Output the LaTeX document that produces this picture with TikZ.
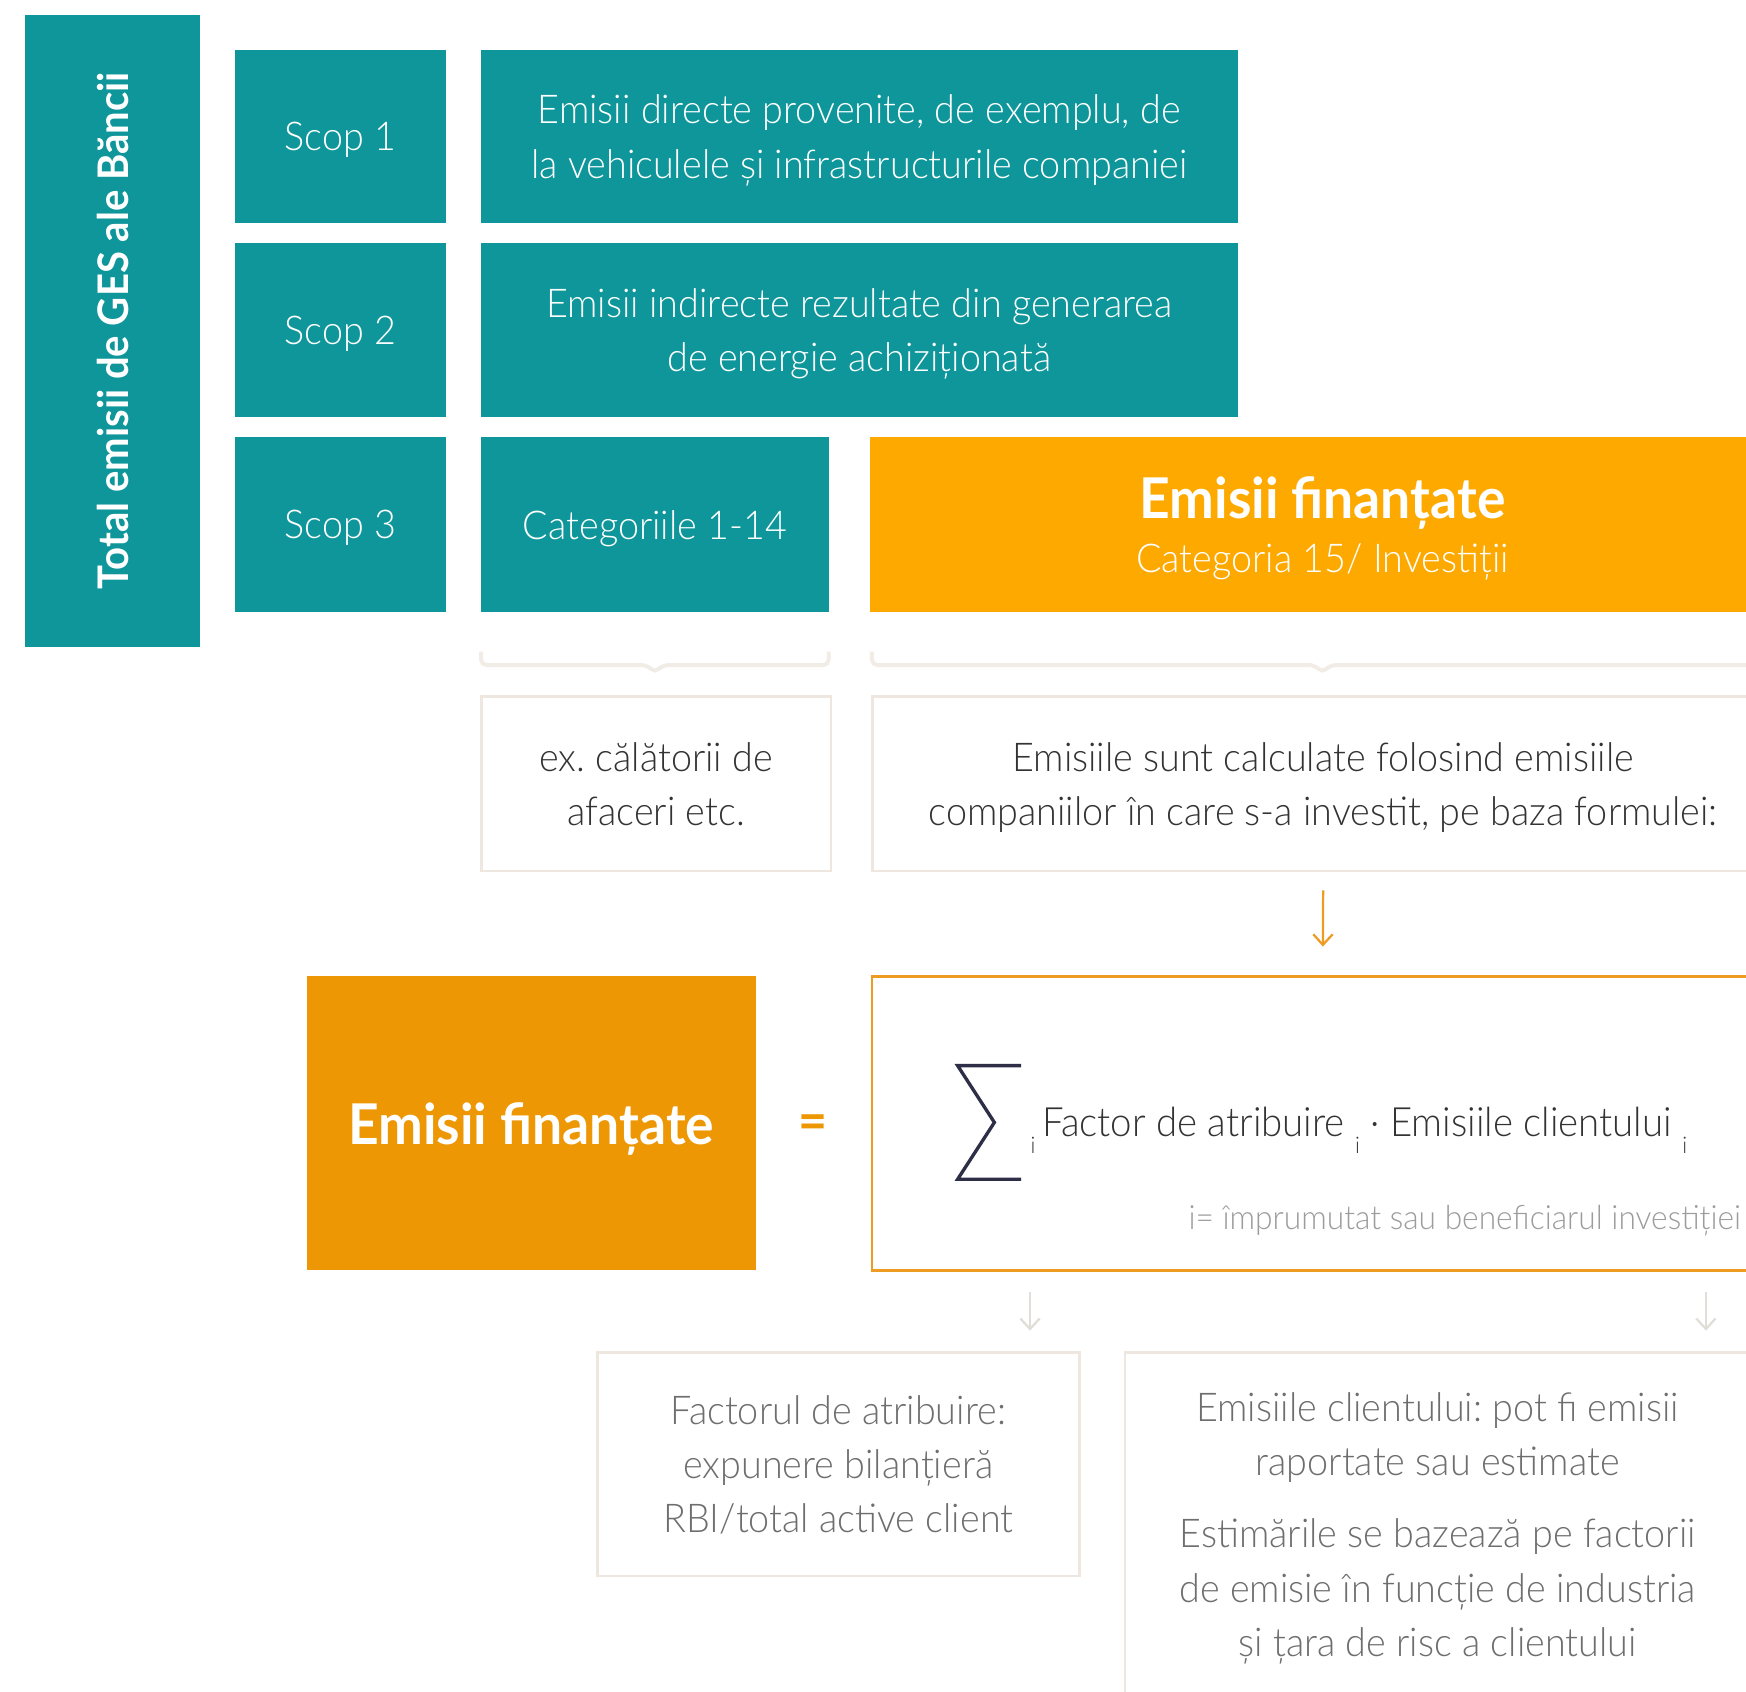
\documentclass[tikz,border=0pt]{standalone}
\usepackage{fontspec}
\setmainfont{Lato}[UprightFont=* Light,BoldFont=* Bold,FakeStretch=0.95]
\usetikzlibrary{arrows.meta,calc}
\definecolor{ingteal}{HTML}{0E969B}
\definecolor{ingorange}{HTML}{FDA900}
\definecolor{deeporange}{HTML}{ED9705}
\definecolor{lineorange}{HTML}{EE9B22}
\definecolor{beige}{HTML}{EDE7E0}
\definecolor{darktext}{HTML}{333333}
\definecolor{greytext}{HTML}{6E6E6E}
\definecolor{lighttext}{HTML}{9C9C9C}
\newcommand\px{0.011135cm}
\newcommand\sub[1]{\raisebox{-5pt}{\fontsize{6.5}{7}\selectfont #1}}
\frenchspacing

\begin{document}
\begin{tikzpicture}[x=0.011135cm,y=-0.011135cm,
  basebox/.style={rectangle,inner sep=0pt,anchor=north west,align=center,text depth=0pt,
    font=\fontsize{11.3}{15.4}\selectfont},
  tealbox/.style={basebox,fill=ingteal,text=white},
  paperbox/.style={basebox,draw=beige,line width=2.5*\px},
  bracket/.style={draw=beige!80,line width=3.5*\px,rounded corners=5*\px},
  flowarrow/.style={-{Straight Barb[length=3pt,width=5.5pt]},line width=2*\px}]
\clip (0,0) rectangle (1568,1519);
\fill[white] (0,0) rectangle (1568,1519);
% Scopuri
\node (total) [tealbox,minimum width=157*\px,minimum height=567*\px] at (22,13) {};
\node (totaltext) [rotate=90,text=white,font=\bfseries\fontsize{12}{14}\selectfont] at (total.center) {Total emisii de GES ale Băncii};
\node (scop1) [tealbox,minimum width=190*\px,minimum height=156*\px] at (210,44) {Scop 1};
\node (scop2) [tealbox,minimum width=190*\px,minimum height=156*\px] at (210,218) {Scop 2};
\node (scop3) [tealbox,minimum width=190*\px,minimum height=157*\px] at (210,392) {Scop 3};
\node (direct) [tealbox,minimum width=680*\px,minimum height=156*\px] at (431,44) {Emisii directe provenite, de exemplu, de\\la vehiculele și infrastructurile companiei};
\node (indirect) [tealbox,minimum width=680*\px,minimum height=156*\px] at (431,218) {Emisii indirecte rezultate din generarea\\de energie achiziționată};
\node (cat) [tealbox,minimum width=313*\px,minimum height=157*\px] at (431,392) {Categoriile 1-14};
\node (fin) [basebox,fill=ingorange,text=white,minimum width=812*\px,minimum height=157*\px] at (781,392) {{\bfseries\fontsize{16}{18}\selectfont Emisii finanțate}\\[0pt]Categoria 15/ Investiții};
% Acolade
\draw[bracket] ($(cat.south west)+(1,35)$) -- ++(0,12) -- ($(cat.south)+(-7,47)$) -- ($(cat.south)+(0,54)$) -- ($(cat.south)+(7,47)$) -- ($(cat.south east)+(-1,47)$) -- ++(0,-12);
\draw[bracket] ($(fin.south west)+(2,35)$) -- ++(0,12) -- ($(fin.south)+(-7,47)$) -- ($(fin.south)+(0,54)$) -- ($(fin.south)+(7,47)$) -- ($(fin.south east)+(-1,47)$) -- ++(0,-12);
\node (travel) [paperbox,text=darktext,minimum width=314*\px,minimum height=157*\px] at (431,624) {ex. călătorii de\\afaceri etc.};
\node (calc) [paperbox,text=darktext,minimum width=810*\px,minimum height=157*\px] at (782,624) {Emisiile sunt calculate folosind emisiile\\companiilor în care s-a investit, pe baza formulei:};
% Formula
\node (formula) [basebox,draw=lineorange,line width=2*\px,minimum width=810*\px,minimum height=264*\px] at (782,876) {};
\draw[flowarrow,draw=lineorange] ([yshift=-16*\px]calc.south) -- ([yshift=26*\px]formula.north);
\node (left) [basebox,fill=deeporange,text=white,minimum width=403*\px,minimum height=264*\px] at (275,876) {\bfseries\fontsize{16}{18}\selectfont Emisii finanțate};
\node (equal) [text=deeporange,font=\bfseries\fontsize{15}{18}\selectfont] at (730,1012) {=};
\draw[line width=3*\px,draw=darktext!90!blue] (917,957) -- (860,957) -- (893,1008) -- (860,1059) -- (917,1059);
\node (sumtext) [anchor=west,inner sep=0pt,text=darktext,font=\fontsize{11.5}{14}\selectfont] at (925,1015) {\sub{i}\,Factor de atribuire \sub{i} · Emisiile clientului \sub{i}};
\node (note) [anchor=east,inner sep=0pt,text=lighttext,font=\fontsize{9.5}{12}\selectfont] at (1564,1096) {i= împrumutat sau beneficiarul investiției};
% Detalii
\node (factor) [paperbox,text=greytext,minimum width=433*\px,minimum height=201*\px] at (535,1213) {Factorul de atribuire:\\expunere bilanțieră\\RBI/total active client};
\node (client) [paperbox,minimum width=570*\px,minimum height=340*\px] at (1009,1213) {};
\node (clienttext) [anchor=north,inner sep=0pt,align=center,text=greytext,font=\fontsize{11.3}{15.5}\selectfont] at (1291,1250) {Emisiile clientului: pot fi emisii\\raportate sau estimate\\[5pt]Estimările se bazează pe factorii\\de emisie în funcție de industria\\și țara de risc a clientului};
\coordinate (attr) at (925,1160);
\coordinate (emis) at (1532,1160);
\draw[flowarrow,draw=beige!90!gray,shorten >=18*\px] (attr) -- (attr |- factor.north);
\draw[flowarrow,draw=beige!90!gray,shorten >=18*\px] (emis) -- (emis |- client.north);
\end{tikzpicture}
\end{document}
